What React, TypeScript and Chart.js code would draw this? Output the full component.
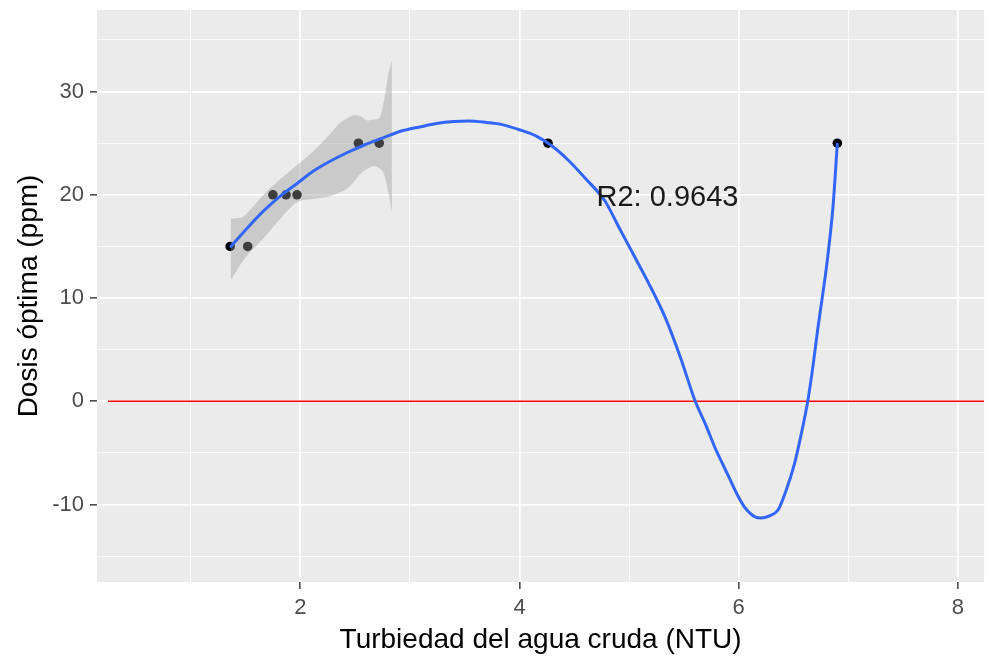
import React, { useEffect, useRef } from "react";
import { Chart, registerables } from "chart.js";

Chart.register(...registerables);

// Observed points
const POINT_X = [1.36, 1.52, 1.75, 1.87, 1.97, 2.53, 2.72, 4.26, 6.9];
const POINT_Y = [15, 15, 20, 20, 20, 25, 25, 25, 25];

// Fitted curve
const CURVE_X = [1.36, 1.5, 1.67, 1.82, 1.97, 2.12, 2.28, 2.43, 2.58, 2.75, 2.93, 3.1, 3.24, 3.4, 3.54, 3.7, 3.84, 4.0, 4.15, 4.3, 4.45, 4.6, 4.78, 4.9, 5.02, 5.18, 5.33, 5.47, 5.6, 5.7, 5.78, 5.9, 5.99, 6.05, 6.1, 6.15, 6.2, 6.28, 6.36, 6.43, 6.51, 6.57, 6.63, 6.68, 6.72, 6.77, 6.81, 6.86, 6.9];
const CURVE_Y = [14.9, 16.6, 18.5, 19.9, 21.1, 22.3, 23.3, 24.1, 24.8, 25.5, 26.2, 26.6, 26.9, 27.1, 27.15, 27.0, 26.8, 26.3, 25.7, 24.7, 23.3, 21.6, 19.4, 17.0, 14.6, 11.4, 8.1, 4.2, 0.1, -2.3, -4.4, -7.1, -9.1, -10.2, -10.8, -11.2, -11.3, -11.1, -10.5, -8.7, -6.0, -3.2, 0.0, 3.6, 6.9, 10.6, 13.8, 18.8, 25.0];

// Confidence band
const BAND_X = [1.364, 1.464, 1.555, 1.673, 1.827, 1.973, 2.127, 2.282, 2.355, 2.427, 2.491, 2.555, 2.609, 2.673, 2.718, 2.764, 2.8, 2.836];
const BAND_UPPER = [17.7, 17.8, 18.7, 20.1, 21.6, 22.9, 24.3, 26.0, 26.9, 27.4, 27.7, 27.6, 27.2, 27.3, 27.4, 29.1, 31.5, 33.0];
const BAND_LOWER = [11.7, 13.4, 14.6, 15.9, 17.8, 19.3, 19.6, 19.9, 20.2, 20.6, 21.3, 22.1, 22.5, 22.8, 22.6, 22.0, 20.4, 18.3];

// Reference line y = 0
const HLINE_X = [0.245, 8.24];
const HLINE_Y = [0, 0];

// Axes
const X_MIN = 0.145;
const X_MAX = 8.24;
const Y_MIN = -17.5;
const Y_MAX = 37.9;
const X_TICKS = [1, 2, 3, 4, 5, 6, 7, 8];
const X_LABELED = [2, 4, 6, 8];
const Y_TICKS = [-15, -10, -5, 0, 5, 10, 15, 20, 25, 30, 35];
const Y_LABELED = [-10, 0, 10, 20, 30];

const X_TITLE = "Turbiedad del agua cruda (NTU)";
const Y_TITLE = "Dosis óptima (ppm)";
const R2_TEXT = "R2: 0.9643";
const R2_X = 5.35;
const R2_Y = 19.7;

const FONT = "'Liberation Sans', Arial, sans-serif";

const zip = (xs: number[], ys: number[]) => xs.map((x, i) => ({ x, y: ys[i] }));

export default function App() {
  const ref = useRef<HTMLCanvasElement>(null);

  useEffect(() => {
    document.body.style.margin = "0";
    const canvas = ref.current!;
    const bgPlugin = {
      id: "panelBg",
      beforeDraw(chart: any) {
        const { ctx, chartArea } = chart;
        ctx.save();
        ctx.fillStyle = "#EBEBEB";
        ctx.fillRect(chartArea.left, chartArea.top, chartArea.right - chartArea.left, chartArea.bottom - chartArea.top);
        ctx.restore();
      },
    };
    const labelPlugin = {
      id: "r2label",
      afterDatasetsDraw(chart: any) {
        const { ctx, scales } = chart;
        ctx.save();
        ctx.font = `29px ${FONT}`;
        ctx.fillStyle = "#1a1a1a";
        ctx.textAlign = "center";
        ctx.textBaseline = "middle";
        ctx.fillText(R2_TEXT, scales.x.getPixelForValue(R2_X), scales.y.getPixelForValue(R2_Y));
        ctx.restore();
      },
    };

    const chart = new Chart(canvas, {
      type: "scatter",
      data: {
        datasets: [
          {
            label: "curve",
            type: "line",
            data: zip(CURVE_X, CURVE_Y),
            borderColor: "#3366FF",
            borderWidth: 3,
            pointRadius: 0,
            cubicInterpolationMode: "monotone",
            fill: false,
            order: 0,
          },
          {
            label: "upper",
            type: "line",
            data: zip(BAND_X, BAND_UPPER),
            borderWidth: 0,
            borderColor: "rgba(0,0,0,0)",
            backgroundColor: "rgba(153,153,153,0.4)",
            pointRadius: 0,
            cubicInterpolationMode: "monotone",
            fill: "+1",
            order: 1,
          },
          {
            label: "lower",
            type: "line",
            data: zip(BAND_X, BAND_LOWER),
            borderWidth: 0,
            borderColor: "rgba(0,0,0,0)",
            pointRadius: 0,
            cubicInterpolationMode: "monotone",
            fill: false,
            order: 1,
          },
          {
            label: "hline",
            type: "line",
            data: zip(HLINE_X, HLINE_Y),
            borderColor: "#FF0000",
            borderWidth: 1.6,
            pointRadius: 0,
            fill: false,
            order: 3,
          },
          {
            label: "points",
            data: zip(POINT_X, POINT_Y),
            backgroundColor: "#000000",
            borderColor: "#000000",
            borderWidth: 0,
            pointRadius: 4.8,
            order: 2,
          },
        ],
      },
      options: {
        animation: false,
        responsive: false,
        events: [],
        layout: { padding: { top: 10, right: 2, left: 0, bottom: 0 } },
        plugins: { legend: { display: false }, tooltip: { enabled: false } },
        scales: {
          x: {
            type: "linear",
            min: X_MIN,
            max: X_MAX,
            afterBuildTicks: (s: any) => {
              s.ticks = X_TICKS.map((v) => ({ value: v }));
            },
            afterFit: (s: any) => {
              s.height = 77;
              s.paddingLeft = 0;
              s.paddingRight = 0;
            },
            border: { display: false },
            grid: {
              color: "#FFFFFF",
              lineWidth: (c: any) => (X_LABELED.includes(c.tick?.value) ? 1.7 : 0.8),
              tickColor: (c: any) => (X_LABELED.includes(c.tick?.value) ? "#333333" : "rgba(0,0,0,0)"),
              tickWidth: 1.4,
              tickLength: 7,
              drawTicks: true,
            },
            ticks: {
              autoSkip: false,
              maxRotation: 0,
              padding: 6,
              color: "#4D4D4D",
              font: { family: FONT, size: 22 },
              callback: (v: any) => (X_LABELED.includes(Number(v)) ? String(v) : ""),
            },
            title: {
              display: true,
              text: X_TITLE,
              color: "#000000",
              font: { family: FONT, size: 28 },
              padding: { top: 0, bottom: 2 },
            },
          },
          y: {
            type: "linear",
            min: Y_MIN,
            max: Y_MAX,
            afterBuildTicks: (s: any) => {
              s.ticks = Y_TICKS.map((v) => ({ value: v }));
            },
            afterFit: (s: any) => {
              s.width = 97;
              s.paddingTop = 0;
              s.paddingBottom = 0;
            },
            border: { display: false },
            grid: {
              color: "#FFFFFF",
              lineWidth: (c: any) => (Y_LABELED.includes(c.tick?.value) ? 1.7 : 0.8),
              tickColor: (c: any) => (Y_LABELED.includes(c.tick?.value) ? "#333333" : "rgba(0,0,0,0)"),
              tickWidth: 1.4,
              tickLength: 7,
              drawTicks: true,
            },
            ticks: {
              autoSkip: false,
              padding: 6,
              color: "#4D4D4D",
              font: { family: FONT, size: 22 },
              callback: (v: any) => (Y_LABELED.includes(Number(v)) ? String(v) : ""),
            },
            title: {
              display: true,
              text: Y_TITLE,
              color: "#000000",
              font: { family: FONT, size: 28 },
              padding: { top: 12, bottom: 0 },
            },
          },
        },
      },
      plugins: [bgPlugin, labelPlugin],
    } as any);
    return () => chart.destroy();
  }, []);

  return (
    <div style={{ position: "fixed", left: 0, top: 0, width: 989, height: 659, background: "#FFFFFF" }}>
      <canvas ref={ref} width={989} height={659} />
    </div>
  );
}
